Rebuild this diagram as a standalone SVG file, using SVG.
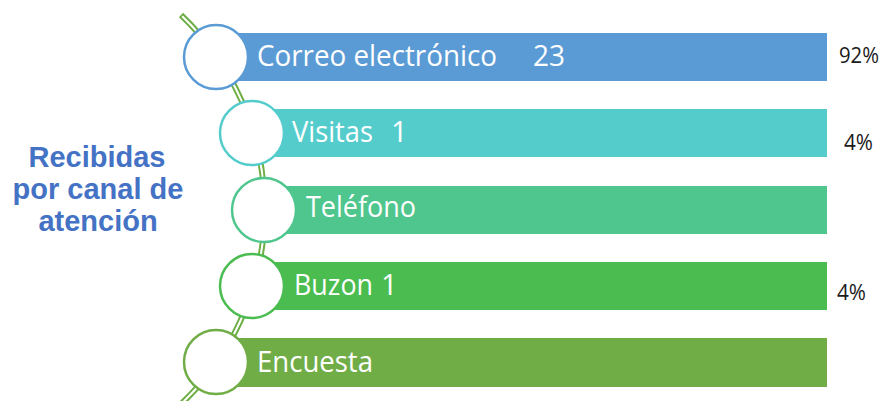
<svg xmlns="http://www.w3.org/2000/svg" width="882" height="401" viewBox="0 0 882 401">
  <style>
    .lbl { font-family: "Open Sans", "Liberation Sans", sans-serif; font-size: 29px; fill: #ffffff; }
    .pct { font-family: "Open Sans", "Liberation Sans", sans-serif; font-size: 21px; fill: #1a1a1a; }
    .ttl { font-family: "Liberation Sans", Arial, sans-serif; font-size: 29px; font-weight: bold; fill: #4472C4; text-anchor: middle; }
    .node circle { fill: #ffffff; stroke-width: 2.5; }
  </style>
  <rect width="882" height="401" fill="#ffffff"/>

  <g id="title">
    <text class="ttl" x="97" y="167">Recibidas</text>
    <text class="ttl" x="98" y="199">por canal de</text>
    <text class="ttl" x="98" y="231">atención</text>
  </g>

  <g id="connectors">
    <path d="M 181 15 A 268 268 0 0 1 180 405" fill="none" stroke="#6DAE45" stroke-width="6"/>
    <path d="M 182.2 16.2 A 268 268 0 0 1 180 405" fill="none" stroke="#ffffff" stroke-width="2"/>
  </g>

  <g id="node-correo" class="node">
    <rect x="238" y="33" width="589" height="48" fill="#5B9BD5"/>
    <circle cx="216" cy="57" r="32" stroke="#5B9BD5"/>
    <text class="lbl" y="66"><tspan x="257" textLength="240" lengthAdjust="spacingAndGlyphs">Correo electrónico</tspan> <tspan x="533" textLength="32" lengthAdjust="spacingAndGlyphs">23</tspan></text>
    <text class="pct" x="839" y="63" textLength="40" lengthAdjust="spacingAndGlyphs">92%</text>
  </g>

  <g id="node-visitas" class="node">
    <rect x="274" y="109" width="553" height="48" fill="#55CCCC"/>
    <circle cx="252" cy="133" r="32" stroke="#55CCCC"/>
    <text class="lbl" y="142"><tspan x="292" textLength="81" lengthAdjust="spacingAndGlyphs">Visitas</tspan> <tspan x="391">1</tspan></text>
    <text class="pct" x="844" y="150" textLength="29" lengthAdjust="spacingAndGlyphs">4%</text>
  </g>

  <g id="node-telefono" class="node">
    <rect x="286" y="186" width="541" height="48" fill="#4FC68D"/>
    <circle cx="264" cy="210" r="32" stroke="#4FC68D"/>
    <text class="lbl" x="306" y="217" textLength="110" lengthAdjust="spacingAndGlyphs">Teléfono</text>
  </g>

  <g id="node-buzon" class="node">
    <rect x="274" y="262" width="553" height="48" fill="#4ABC50"/>
    <circle cx="252" cy="286" r="32" stroke="#4ABC50"/>
    <text class="lbl" y="295"><tspan x="294" textLength="79" lengthAdjust="spacingAndGlyphs">Buzon</tspan> <tspan x="381">1</tspan></text>
    <text class="pct" x="837" y="300" textLength="29" lengthAdjust="spacingAndGlyphs">4%</text>
  </g>

  <g id="node-encuesta" class="node">
    <rect x="238" y="338" width="589" height="49" fill="#70AD47"/>
    <circle cx="216" cy="362" r="32" stroke="#70AD47"/>
    <text class="lbl" x="257" y="372" textLength="116" lengthAdjust="spacingAndGlyphs">Encuesta</text>
  </g>
</svg>
